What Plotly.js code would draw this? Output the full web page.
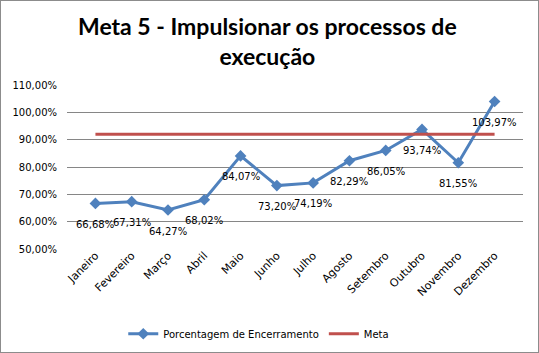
<!DOCTYPE html>
<html><head><meta charset="utf-8">
<script src="https://cdn.plot.ly/plotly-3.0.1.min.js"></script>
<style>html,body{margin:0;padding:0;background:#fff}#c{width:539px;height:353px;box-sizing:border-box;border:1px solid #8c8c8c}</style>
</head><body><div id="c"></div>
<script>
const months = ["Janeiro","Fevereiro","Março","Abril","Maio","Junho","Julho","Agosto","Setembro","Outubro","Novembro","Dezembro"];
const encerramento = [66.68, 67.31, 64.27, 68.02, 84.07, 73.20, 74.19, 82.29, 86.05, 93.74, 81.55, 103.97];
const meta = [92, 92, 92, 92, 92, 92, 92, 92, 92, 92, 92, 92];
const fmt = v => v.toFixed(2).replace('.', ',') + '%';
const F = 'DejaVu Sans, Verdana, sans-serif';
const data = [
  {x: months, y: encerramento.map(v => v/100), type: 'scatter', mode: 'lines+markers',
   name: 'Porcentagem de Encerramento',
   line: {color: '#4F81BD', width: 3}, marker: {symbol: 'diamond', size: 9, color: '#4F81BD'}},
  {x: months, y: meta.map(v => v/100), type: 'scatter', mode: 'lines', name: 'Meta',
   line: {color: '#C0504D', width: 3}}
];
const labels = months.map((m, i) => ({x: m, y: encerramento[i]/100, xref: 'x', yref: 'y', text: fmt(encerramento[i]),
  showarrow: false, yshift: -21, xanchor: 'center', yanchor: 'middle', font: {family: F, size: 10, color: '#000'}}));
const layout = {
  width: 537, height: 351, margin: {l: 66, r: 15, t: 84, b: 103},
  paper_bgcolor: '#fff', plot_bgcolor: '#fff', separators: ',.',
  font: {family: F, size: 10, color: '#000'},
  annotations: [{text: '<b>Meta 5 - Impulsionar os processos de<br>execução</b>', xref: 'paper', yref: 'paper',
    x: 0.44, xanchor: 'center', y: 1.46, yanchor: 'top', showarrow: false,
    font: {family: 'Lato, Calibri, sans-serif', size: 23, color: '#000'}}].concat(labels),
  xaxis: {type: 'category', tickangle: -45, showgrid: false, showline: false, ticks: '', automargin: false,
          ticklabelstandoff: -3, tickfont: {family: F, size: 11}},
  yaxis: {range: [0.5, 1.1], dtick: 0.1, tickformat: '.2%', showgrid: true, gridcolor: '#868686', gridwidth: 1,
          zeroline: false, showline: false, ticks: '', automargin: false, ticklabelstandoff: 9, tickfont: {family: F, size: 10}},
  showlegend: true,
  legend: {orientation: 'h', x: 0.48, xanchor: 'center', xref: 'container', yref: 'container', y: 0.052, yanchor: 'middle', font: {family: F, size: 10}, itemwidth: 30}
};
Plotly.newPlot('c', data, layout, {displayModeBar: false, staticPlot: true});
</script></body></html>
